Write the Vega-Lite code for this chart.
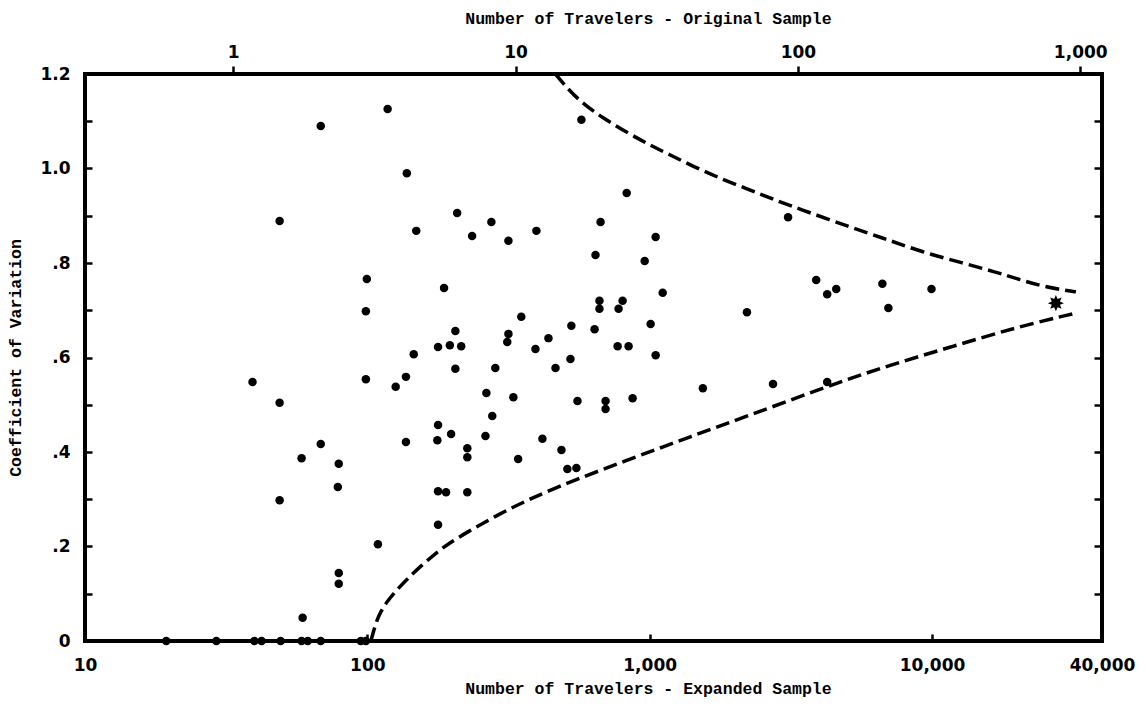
{
  "$schema": "https://vega.github.io/schema/vega-lite/v6.json",
  "width": 1017,
  "height": 567,
  "autosize": {"type": "none"},
  "padding": {"left": 85, "top": 74, "right": 45, "bottom": 70},
  "background": "#ffffff",
  "config": {
    "view": {"stroke": "#000000", "strokeWidth": 4},
    "axis": {
      "domain": false,
      "grid": false,
      "labelFont": "DejaVu Sans",
      "labelFontWeight": "bold",
      "labelFontSize": 17,
      "labelColor": "#000000",
      "labelFlush": false,
      "tickColor": "#000000",
      "tickWidth": 2.5,
      "titleFont": "Liberation Mono",
      "titleFontWeight": "bold",
      "titleFontSize": 16.5,
      "titleColor": "#000000"
    }
  },
  "datasets": {
    "obs": [
      {"n": 118, "cv": 1.126}, {"n": 68.4, "cv": 1.09}, {"n": 48.9, "cv": 0.889},
      {"n": 138, "cv": 0.99}, {"n": 149, "cv": 0.868}, {"n": 99.6, "cv": 0.766},
      {"n": 187, "cv": 0.747}, {"n": 98.8, "cv": 0.698}, {"n": 573, "cv": 1.103},
      {"n": 829, "cv": 0.948}, {"n": 208, "cv": 0.906}, {"n": 275, "cv": 0.887},
      {"n": 235, "cv": 0.857}, {"n": 316, "cv": 0.847}, {"n": 397, "cv": 0.868},
      {"n": 670, "cv": 0.887}, {"n": 1050, "cv": 0.855}, {"n": 643, "cv": 0.817},
      {"n": 960, "cv": 0.804}, {"n": 1112, "cv": 0.737}, {"n": 664, "cv": 0.72},
      {"n": 664, "cv": 0.703}, {"n": 802, "cv": 0.72}, {"n": 776, "cv": 0.703},
      {"n": 351, "cv": 0.686}, {"n": 205, "cv": 0.656}, {"n": 316, "cv": 0.65},
      {"n": 313, "cv": 0.633}, {"n": 528, "cv": 0.667}, {"n": 638, "cv": 0.66},
      {"n": 1008, "cv": 0.671}, {"n": 438, "cv": 0.641}, {"n": 2211, "cv": 0.696},
      {"n": 178, "cv": 0.622}, {"n": 196, "cv": 0.626}, {"n": 215, "cv": 0.624},
      {"n": 146, "cv": 0.607}, {"n": 394, "cv": 0.618}, {"n": 770, "cv": 0.624},
      {"n": 842, "cv": 0.624}, {"n": 1050, "cv": 0.605}, {"n": 205, "cv": 0.576},
      {"n": 284, "cv": 0.578}, {"n": 464, "cv": 0.578}, {"n": 524, "cv": 0.597},
      {"n": 137, "cv": 0.559}, {"n": 126, "cv": 0.538}, {"n": 264, "cv": 0.525},
      {"n": 329, "cv": 0.516}, {"n": 555, "cv": 0.508}, {"n": 698, "cv": 0.508},
      {"n": 698, "cv": 0.491}, {"n": 870, "cv": 0.514}, {"n": 1543, "cv": 0.535},
      {"n": 2734, "cv": 0.544}, {"n": 277, "cv": 0.476}, {"n": 178, "cv": 0.457},
      {"n": 177, "cv": 0.425}, {"n": 198, "cv": 0.438}, {"n": 137, "cv": 0.421},
      {"n": 262, "cv": 0.434}, {"n": 226, "cv": 0.408}, {"n": 226, "cv": 0.389},
      {"n": 417, "cv": 0.428}, {"n": 487, "cv": 0.404}, {"n": 342, "cv": 0.385},
      {"n": 511, "cv": 0.364}, {"n": 550, "cv": 0.366}, {"n": 178, "cv": 0.317},
      {"n": 190, "cv": 0.315}, {"n": 226, "cv": 0.315}, {"n": 178, "cv": 0.246},
      {"n": 39.2, "cv": 0.548}, {"n": 48.9, "cv": 0.504}, {"n": 98.8, "cv": 0.554},
      {"n": 68.4, "cv": 0.417}, {"n": 58.5, "cv": 0.387}, {"n": 79.2, "cv": 0.375},
      {"n": 78.6, "cv": 0.326}, {"n": 48.9, "cv": 0.298}, {"n": 109, "cv": 0.205},
      {"n": 79.2, "cv": 0.144}, {"n": 79.2, "cv": 0.121}, {"n": 59, "cv": 0.049},
      {"n": 3092, "cv": 0.897}, {"n": 3888, "cv": 0.764}, {"n": 4254, "cv": 0.734},
      {"n": 4579, "cv": 0.745}, {"n": 6672, "cv": 0.756}, {"n": 7006, "cv": 0.705},
      {"n": 9959, "cv": 0.745}, {"n": 4254, "cv": 0.548},
      {"n": 19.4, "cv": 0}, {"n": 29.2, "cv": 0}, {"n": 39.8, "cv": 0},
      {"n": 42.2, "cv": 0}, {"n": 49.3, "cv": 0}, {"n": 58.5, "cv": 0},
      {"n": 61.5, "cv": 0}, {"n": 68.4, "cv": 0}, {"n": 94.8, "cv": 0},
      {"n": 98.8, "cv": 0}
    ],
    "limits": [
      {"side": "upper", "n": 463.6, "cv": 1.2},
      {"side": "upper", "n": 499, "cv": 1.177},
      {"side": "upper", "n": 564, "cv": 1.143},
      {"side": "upper", "n": 681, "cv": 1.107},
      {"side": "upper", "n": 849, "cv": 1.073},
      {"side": "upper", "n": 1000, "cv": 1.05},
      {"side": "upper", "n": 1178, "cv": 1.029},
      {"side": "upper", "n": 1421, "cv": 1.005},
      {"side": "upper", "n": 1730, "cv": 0.982},
      {"side": "upper", "n": 2211, "cv": 0.957},
      {"side": "upper", "n": 2734, "cv": 0.935},
      {"side": "upper", "n": 3328, "cv": 0.916},
      {"side": "upper", "n": 5134, "cv": 0.876},
      {"side": "upper", "n": 6835, "cv": 0.851},
      {"side": "upper", "n": 9254, "cv": 0.823},
      {"side": "upper", "n": 12835, "cv": 0.8},
      {"side": "upper", "n": 16812, "cv": 0.781},
      {"side": "upper", "n": 20629, "cv": 0.764},
      {"side": "upper", "n": 24490, "cv": 0.751},
      {"side": "upper", "n": 30290, "cv": 0.741},
      {"side": "upper", "n": 32340, "cv": 0.739},
      {"side": "lower", "n": 102.9, "cv": 0},
      {"side": "lower", "n": 105.5, "cv": 0.023},
      {"side": "lower", "n": 108.1, "cv": 0.044},
      {"side": "lower", "n": 111.7, "cv": 0.063},
      {"side": "lower", "n": 117.3, "cv": 0.083},
      {"side": "lower", "n": 126.2, "cv": 0.106},
      {"side": "lower", "n": 140.4, "cv": 0.135},
      {"side": "lower", "n": 156.2, "cv": 0.161},
      {"side": "lower", "n": 176.6, "cv": 0.188},
      {"side": "lower", "n": 194.8, "cv": 0.207},
      {"side": "lower", "n": 223.8, "cv": 0.229},
      {"side": "lower", "n": 293.2, "cv": 0.269},
      {"side": "lower", "n": 384, "cv": 0.303},
      {"side": "lower", "n": 532.7, "cv": 0.339},
      {"side": "lower", "n": 870, "cv": 0.387},
      {"side": "lower", "n": 1387, "cv": 0.432},
      {"side": "lower", "n": 2266, "cv": 0.478},
      {"side": "lower", "n": 3919, "cv": 0.531},
      {"side": "lower", "n": 6724, "cv": 0.58},
      {"side": "lower", "n": 11634, "cv": 0.622},
      {"side": "lower", "n": 20120, "cv": 0.665},
      {"side": "lower", "n": 32340, "cv": 0.694}
    ],
    "total": [{"n": 27460, "cv": 0.715}]
  },
  "layer": [
    {
      "data": {"name": "obs"},
      "mark": {"type": "point", "filled": true, "shape": "circle", "size": 72, "color": "#000000", "opacity": 1},
      "encoding": {
        "x": {
          "field": "n", "type": "quantitative",
          "scale": {"type": "log", "domain": [10, 40000], "nice": false},
          "axis": {
            "orient": "bottom",
            "values": [10, 100, 1000, 10000, 40000],
            "format": ",",
            "tickSize": -7,
            "labelPadding": 23,
            "title": "Number of Travelers - Expanded Sample",
            "titleX": 563,
            "titleAlign": "center",
            "titlePadding": 7
          }
        },
        "y": {
          "field": "cv", "type": "quantitative",
          "scale": {"domain": [0, 1.2], "nice": false, "zero": false},
          "axis": {
            "orient": "left",
            "values": [0, 0.1, 0.2, 0.3, 0.4, 0.5, 0.6, 0.7, 0.8, 0.9, 1.0, 1.1, 1.2],
            "labelExpr": "round(datum.value * 10) % 2 == 0 ? (datum.value == 0 ? '0' : datum.value >= 0.99 ? format(datum.value, '.1f') : replace(format(datum.value, '.1f'), '0.', '.')) : ''",
            "tickSize": -7,
            "labelPadding": 22,
            "title": "Coefficient of Variation",
            "titlePadding": 16
          }
        }
      }
    },
    {
      "encoding": {
        "x": {
          "field": "n", "type": "quantitative",
          "scale": {"type": "log", "domain": [10, 40000], "nice": false},
          "axis": {
            "orient": "top",
            "values": [33.5, 335, 3350, 33500],
            "labelExpr": "datum.value < 100 ? '1' : datum.value < 1000 ? '10' : datum.value < 10000 ? '100' : '1,000'",
            "tickSize": 8,
            "labelPadding": 5,
            "title": "Number of Travelers - Original Sample",
            "titleX": 563,
            "titleAlign": "center",
            "titlePadding": 17
          }
        },
        "y": {
          "field": "cv", "type": "quantitative",
          "scale": {"domain": [0, 1.2], "nice": false, "zero": false},
          "axis": {
            "orient": "right",
            "values": [0.1, 0.2, 0.3, 0.4, 0.5, 0.6, 0.7, 0.8, 0.9, 1.0, 1.1],
            "labels": false,
            "tickSize": -8,
            "title": null
          }
        }
      },
      "layer": [
        {
          "data": {"name": "limits"},
          "mark": {"type": "line", "interpolate": "basis", "color": "#000000", "strokeWidth": 3.5, "strokeDash": [14, 6], "clip": true},
          "encoding": {"detail": {"field": "side", "type": "nominal"}}
        },
        {
          "data": {"name": "total"},
          "mark": {
            "type": "point", "filled": true, "size": 260, "color": "#000000", "opacity": 1,
            "shape": "M1,0L0.508,0.21L0.707,0.707L0.21,0.508L0,1L-0.21,0.508L-0.707,0.707L-0.508,0.21L-1,0L-0.508,-0.21L-0.707,-0.707L-0.21,-0.508L0,-1L0.21,-0.508L0.707,-0.707L0.508,-0.21Z"
          }
        }
      ]
    }
  ],
  "resolve": {"axis": {"x": "independent", "y": "independent"}}
}
